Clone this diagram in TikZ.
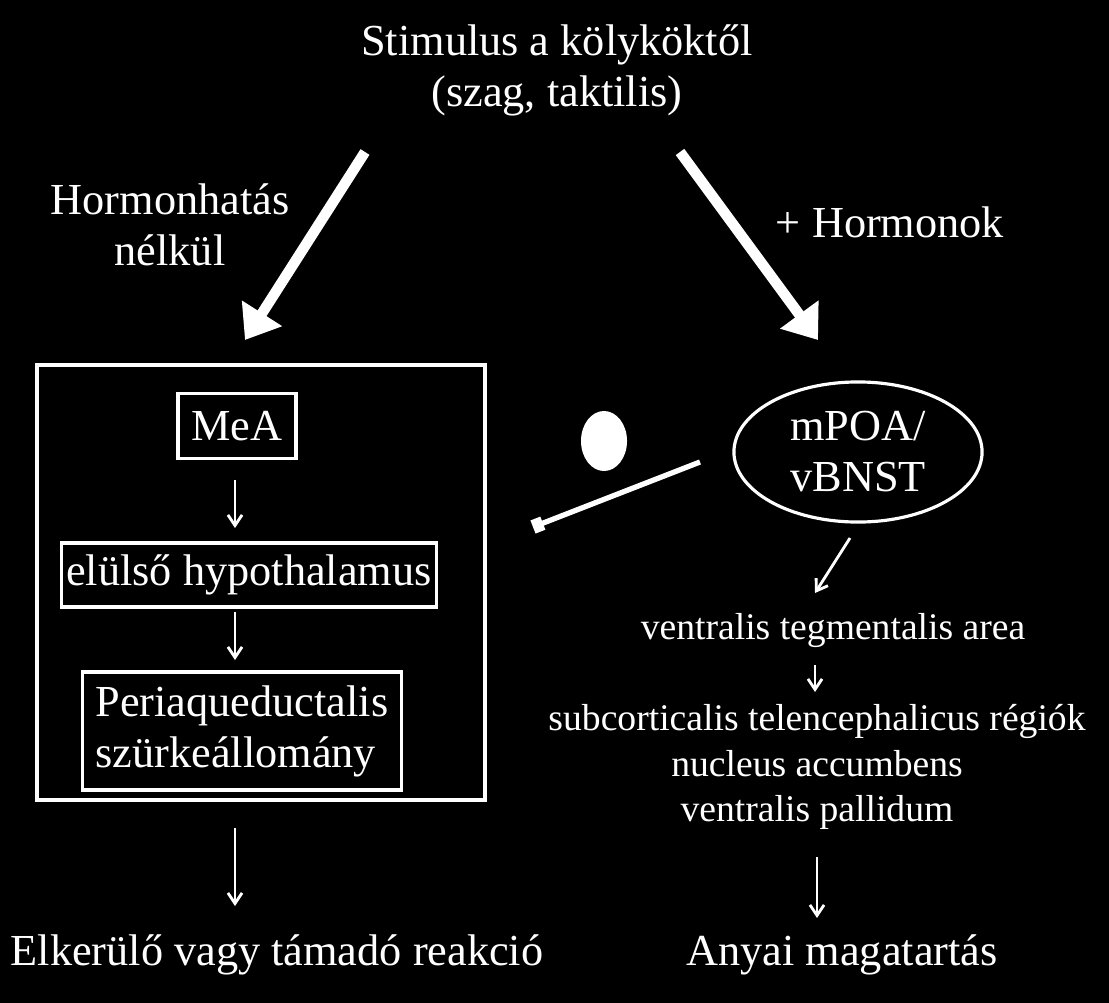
\documentclass[tikz,border=0pt]{standalone}
\usepackage{fontspec}
\setmainfont{Liberation Serif}
\usetikzlibrary{arrows.meta, positioning, shapes.geometric}
\begin{document}
\begin{tikzpicture}[x=0.01cm, y=-0.01cm,
    txt/.style={text=white, font=\fontsize{12.6}{14.5}\selectfont, align=center, inner sep=0pt},
    smalltxt/.style={text=white, font=\fontsize{10.7}{13}\selectfont, align=center, inner sep=0pt},
    box/.style={draw=white, line width=0.9pt, txt},
    bigarrow/.style={-{Triangle[length=9pt, width=13pt]}, white, line width=3pt},
    arrow/.style={-{Straight Barb[length=3pt, width=4pt]}, white, line width=0.8pt}
  ]
  \fill[black] (0,0) rectangle (1109,1003);
  % top
  \node (stim) [txt] at (557,70) {Stimulus a kölyköktől\\(szag, taktilis)};
  \coordinate (la) at (365,152);
  \coordinate (lb) at (245,340);
  \coordinate (ra) at (680,152);
  \coordinate (rb) at (818,340);
  \draw [bigarrow] (la) -- (lb);
  \draw [bigarrow] (ra) -- (rb);
  \node (nohorm) [txt] at (170,225) {Hormonhatás\\nélkül};
  \node (horm) [txt] at (890,222) {+ Hormonok};
  % left
  \draw [white, line width=0.9pt] (37,365) rectangle (485,800);
  \node (mea) [box, minimum width=1.18cm, minimum height=0.65cm] at (237,426) {MeA};
  \node (hyp) [box, minimum width=3.75cm, minimum height=0.64cm] at (249,575) {elülső hypothalamus};
  \node (pag) [box, minimum width=3.18cm, minimum height=1.18cm, align=left] at (242,731) {Periaqueductalis\\szürkeállomány};
  \coordinate (a1) at (235,480);
  \coordinate (a2) at (235,528);
  \coordinate (a3) at (235,612);
  \coordinate (a4) at (235,660);
  \draw [arrow] (a1) -- (a2);
  \draw [arrow] (a3) -- (a4);
  \coordinate (lo) at (235,828);
  \coordinate (le) at (235,906);
  \draw [arrow] (lo) -- (le);
  \node (avoid) [txt] at (277,955) {Elkerülő vagy támadó reakció};
  % right
  \node (mpoa) [ellipse, draw=white, line width=0.9pt, txt, minimum width=2.48cm, minimum height=1.4cm] at (858,452) {mPOA/\\vBNST};
  \node (dot) [ellipse, fill=white, minimum width=0.46cm, minimum height=0.6cm, inner sep=0pt] at (604,441) {};
  \coordinate (inh) at (533,527);
  \draw [white, line width=1.5pt, -{Square[length=3pt, width=4pt]}] (700,462) -- (inh);
  \node (vta) [smalltxt] at (833,630) {ventralis tegmentalis area};
  \coordinate (b1) at (850,538);
  \coordinate (b2) at (815,593);
  \coordinate (b3) at (815,665);
  \coordinate (b4) at (815,692);
  \draw [arrow] (b1) -- (b2);
  \draw [arrow] (b3) -- (b4);
  \node (sub) [smalltxt] at (817,767) {subcorticalis telencephalicus régiók\\nucleus accumbens\\ventralis pallidum};
  \coordinate (ro) at (817,857);
  \coordinate (re) at (817,918);
  \draw [arrow] (ro) -- (re);
  \node (mat) [txt] at (842,955) {Anyai magatartás};
\end{tikzpicture}
\end{document}
